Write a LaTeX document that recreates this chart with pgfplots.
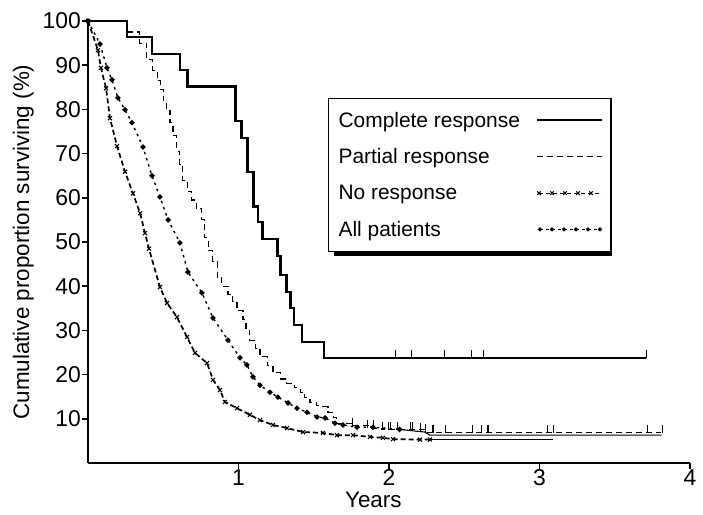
\documentclass[border=0pt]{standalone}
\usepackage{pgfplots}
\pgfplotsset{compat=1.18}
\usepackage{fontspec}
\setmainfont{Liberation Sans}
\begin{document}
\begin{tikzpicture}
\path[use as bounding box] (-88bp,-52bp) rectangle (615bp,463bp);
\begin{axis}[
  at={(0,0)}, anchor=south west,
  scale only axis, width=602bp, height=442bp,
  xmin=0, xmax=4, ymin=0, ymax=100,
  clip=false,
  axis lines=left,
  axis line style={-, line width=2bp},
  xtick={1,2,3,4}, ytick={10,20,30,40,50,60,70,80,90,100},
  tick align=outside, major tick length=6bp,
  tick style={line width=1.6bp, black},
  tick label style={font=\fontsize{23}{26}\selectfont},
  xticklabel style={inner sep=0.5bp},
  yticklabel style={inner sep=1bp},
  /pgf/number format/assume math mode=true,
  xlabel={Years},
  ylabel={Cumulative proportion surviving (\%)},
  label style={font=\fontsize{22.5}{26}\selectfont},
  xlabel style={at={(axis description cs:0.474,0)}, anchor=north, yshift=-29bp, inner sep=0pt},
  ylabel style={at={(axis description cs:-0.0897,0.5)}, anchor=south, inner sep=0pt},
  legend plot pos=right,
  legend cell align=left,
  legend style={at={(axis cs:1.595,82.6)}, anchor=north west, draw=black, line width=1.1bp,
    font=\fontsize{21}{24}\selectfont, inner xsep=8bp, inner ysep=11.5bp,
    row sep=16bp, column sep=14bp, name=leg},
]
% Complete response
\addplot[black, line width=2.4bp, const plot,
  legend image code/.code={\draw[black, line width=2bp] (0bp,0bp) -- (65bp,0bp);}]
coordinates {(0,100) (0.26,96.4) (0.425,92.6) (0.61,88.9) (0.66,85.2) (0.98,77.4) (1.02,73.5)
 (1.06,65.9) (1.10,58) (1.13,54.5) (1.16,50.7) (1.26,46.8) (1.28,42.5) (1.32,38.7)
 (1.345,35.1) (1.37,31.2) (1.42,27.4) (1.57,23.8) (3.71,23.8)};
\addlegendentry{Complete response}
% Partial response
\addplot[black, line width=1.1bp, dash pattern=on 6bp off 4bp, const plot,
  legend image code/.code={\draw[black, line width=1.1bp, dash pattern=on 6bp off 4bp] (0bp,0bp) -- (65bp,0bp);}]
coordinates {(0,100) (0.26,97.5) (0.345,95.0) (0.39,91.2) (0.43,88.9) (0.46,86.5) (0.48,84.5)
 (0.50,82.0) (0.52,79.8) (0.545,77.0) (0.565,74.0) (0.59,70.5) (0.61,67.5) (0.63,64.0)
 (0.66,61.5) (0.69,59.5) (0.72,57.5) (0.757,55.0) (0.777,51.0) (0.80,48.0) (0.83,45.5)
 (0.86,42.0) (0.89,40.0) (0.93,38.2) (0.963,36.5) (0.99,34.5) (1.03,32.4) (1.05,30.0)
 (1.076,27.8) (1.11,26.0) (1.143,24.0) (1.19,22.0) (1.229,20.4) (1.28,19.0) (1.32,18.0)
 (1.37,17.0) (1.41,16.0) (1.44,14.8) (1.475,13.6) (1.52,13.0) (1.56,12.7) (1.595,11.5)
 (1.63,10.2) (1.654,9.0) (1.76,8.4) (1.87,7.9) (1.95,7.5) (2.24,7.0) (2.27,6.8) (3.81,6.8)};
\addlegendentry{Partial response}
% No response
\addplot[black, line width=1.7bp, dash pattern=on 5bp off 3bp, mark=x, mark size=2.8bp,
  mark options={solid, line width=1.1bp},
  legend image code/.code={\draw[black, line width=1bp, dash pattern=on 4bp off 3bp, mark=x, mark size=2.5bp, mark options={solid}]
    plot coordinates {(2bp,0bp) (15bp,0bp) (28bp,0bp) (41bp,0bp) (54bp,0bp)} -- (65bp,0bp);}]
coordinates {(0,100) (0.066,93.4) (0.086,89.4) (0.12,84.8) (0.146,78) (0.193,71.7)
 (0.246,65.9) (0.299,61) (0.346,56.5) (0.379,52) (0.405,48.5) (0.478,39.8) (0.525,36.2)
 (0.591,33) (0.658,28.5) (0.711,24.9) (0.791,22.6) (0.831,18.8) (0.877,16.5) (0.91,13.8)
 (0.99,12.4) (1.076,10.9) (1.143,9.7) (1.229,8.6) (1.322,7.9) (1.429,7.0) (1.561,6.8)
 (1.654,6.3) (1.761,6.3) (1.874,5.9) (1.96,5.7) (2.027,5.4) (2.206,5.3) (2.272,5.3)};
\addlegendentry{No response}
% All patients
\addplot[black, line width=1.4bp, dash pattern=on 2.5bp off 4bp, mark=*, mark size=1.9bp,
  mark options={solid},
  legend image code/.code={\draw[black, line width=1bp, dash pattern=on 3bp off 3bp, mark=*, mark size=1.6bp, mark options={solid}]
    plot coordinates {(3bp,0bp) (15bp,0bp) (27bp,0bp) (39bp,0bp) (51bp,0bp) (63bp,0bp)};}]
coordinates {(0,100) (0.08,94.8) (0.126,89.4) (0.159,86.7) (0.199,82.6) (0.246,79.9)
 (0.292,77) (0.365,71.5) (0.425,65) (0.478,60.2) (0.532,55) (0.611,49.8) (0.664,43.2)
 (0.757,38.5) (0.831,32.8) (0.93,27.8) (1.01,23.8) (1.056,22.2) (1.096,19.5) (1.143,17.6)
 (1.209,16) (1.262,14.9) (1.329,13.6) (1.389,12.4) (1.455,11.5) (1.522,10.4) (1.575,10.2)
 (1.641,9.0) (1.694,8.6) (1.787,8.1) (1.894,8.1) (2.07,7.6)};
\addlegendentry{All patients}
% tails
\addplot[black, line width=1.1bp, forget plot] coordinates {(2.07,7.6) (2.239,7.0) (2.272,6.3) (3.81,6.3)};
\addplot[black, line width=1.1bp, forget plot] coordinates {(2.272,5.3) (3.09,5.3)};
% censoring ticks
\addplot[black, only marks, mark=|, mark size=4bp, mark options={line width=0.7bp, yshift=4bp}, forget plot]
coordinates {(2.04,23.8) (2.15,23.8) (2.37,23.8) (2.55,23.8) (2.63,23.8) (3.71,23.8)};
\addplot[black, only marks, mark=|, mark size=4bp, mark options={line width=0.7bp, yshift=4bp}, forget plot]
coordinates {(1.754,8.4) (1.854,8.0) (1.894,7.9) (1.953,7.5) (1.993,7.5) (2.007,7.5)
 (2.053,7.5) (2.14,7.5) (2.153,7.5) (2.206,7.2) (2.239,7.0) (2.286,6.8) (2.292,6.8)
 (2.372,6.8) (2.551,6.8) (2.611,6.8) (2.651,6.8) (2.658,6.8) (3.05,6.8) (3.09,6.8)
 (3.714,6.8) (3.814,6.8)};
\end{axis}
\fill[black] ([xshift=6bp]leg.south west) rectangle ([yshift=-4bp]leg.south east);
\end{tikzpicture}
\end{document}
